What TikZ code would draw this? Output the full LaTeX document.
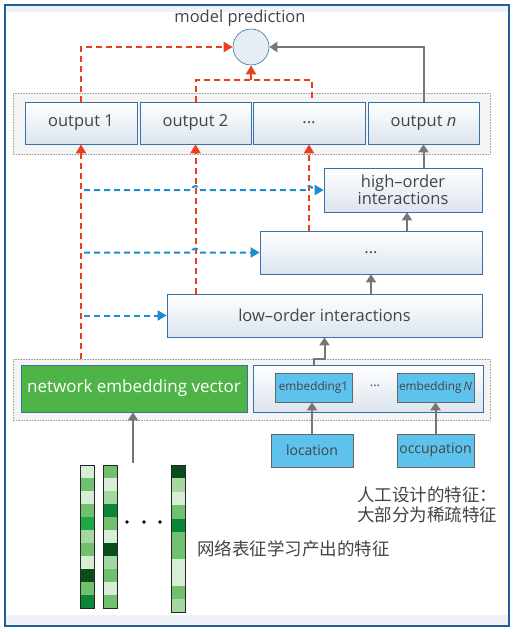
\documentclass[tikz,border=0pt]{standalone}
\usepackage{fontspec}
\setmainfont{Open Sans}
\newfontfamily\cjk{Noto Sans CJK SC}
\usepackage{tikz}
\usetikzlibrary{arrows.meta}

\definecolor{frameblue}{HTML}{1F5F9B}
\definecolor{boxblue}{HTML}{3471AE}
\definecolor{boxshade}{HTML}{DCE4EE}
\definecolor{redline}{HTML}{EA3F1E}
\definecolor{blueline}{HTML}{1B8ED1}
\definecolor{grayline}{HTML}{767676}
\definecolor{skyfill}{HTML}{5DC2EC}
\definecolor{embgreen}{HTML}{4FB448}
\definecolor{paleback}{HTML}{EEF2F7}
\definecolor{groupfill}{HTML}{F4F4F4}
\definecolor{predfill}{HTML}{E6EDF5}
\definecolor{txtgray}{HTML}{444444}
%% tonos de verde de los vectores
\definecolor{gA}{HTML}{D6EDD6}
\definecolor{gB}{HTML}{A5D8A0}
\definecolor{gC}{HTML}{70C06E}
\definecolor{gD}{HTML}{1FA84A}
\definecolor{gE}{HTML}{0B8538}
\definecolor{gF}{HTML}{0A4D1A}

\tikzset{
  panel/.style={draw=boxblue, line width=0.7pt, top color=white, bottom color=boxshade,
    text=txtgray, inner sep=0pt, font=\fontsize{16.5}{19}\selectfont},
  skybox/.style={draw=gray!80!black, line width=0.6pt, fill=skyfill, text=txtgray, inner sep=0pt},
  grouprect/.style={draw=gray!75, densely dotted, line width=0.6pt, fill=groupfill},
  reddash/.style={draw=redline, line width=2pt, dash pattern=on 6pt off 4pt},
  redarrow/.style={reddash, -{Triangle[length=9pt,width=10pt]}},
  bluearrow/.style={draw=blueline, line width=2pt, dash pattern=on 6pt off 4pt, -{Triangle[length=9pt,width=10pt]}},
  grayarrow/.style={draw=grayline, line width=2pt, -{Triangle[length=8pt,width=10pt]}},
}

\begin{document}
\begin{tikzpicture}[x=1pt,y=-1pt]
\useasboundingbox (0,0) rectangle (516,632);
%% marco exterior
\fill[white] (0,0) rectangle (516,632);
\fill[paleback] (5,5) rectangle (509,12);
\fill[paleback] (5,615) rectangle (509,626);
\draw[frameblue, line width=1.4pt] (5,5) rectangle (509,626);

%% grupos punteados
\draw[grouprect] (13,93) rectangle (490,154);
\draw[grouprect] (13,359) rectangle (490,420);

%% prediccion
\node[text=txtgray, font=\fontsize{16.5}{19}\selectfont] (title) at (240,18) {model prediction};
\node[circle, draw=boxblue, line width=0.6pt, fill=predfill, minimum size=36pt, inner sep=0pt] (pred) at (251,47) {};

%% salidas
\node[panel, minimum width=112pt, minimum height=42pt] (out1) at (81,123) {output 1};
\node[panel, minimum width=111pt, minimum height=42pt] (out2) at (195.5,123) {output 2};
\node[panel, minimum width=112pt, minimum height=42pt] (outd) at (309,123) {...};
\node[panel, minimum width=111pt, minimum height=42pt] (outn) at (423.5,123) {output \textit{n}};

%% interacciones
\node[panel, minimum width=158pt, minimum height=44pt, align=center,
  font=\fontsize{16.5}{17.5}\selectfont] (high) at (403,190) {high--order\\interactions};
\node[panel, minimum width=222pt, minimum height=43pt] (mid) at (371,252.5) {...};
\node[panel, minimum width=315pt, minimum height=43pt] (low) at (324.5,315.5) {low--order interactions};

%% embeddings
\node[draw=boxblue, line width=0.8pt, fill=embgreen, text=white, inner sep=0pt,
  minimum width=226pt, minimum height=47pt, font=\fontsize{17}{19}\selectfont] (net) at (134,388.5) {network embedding vector};
\node[panel, minimum width=230pt, minimum height=47pt] (feat) at (368,388.5) {};
\node[skybox, minimum width=77pt, minimum height=29pt, font=\fontsize{11.8}{14}\selectfont] (emb1) at (313.5,387.5) {embedding1};
\node[text=txtgray, font=\fontsize{13}{14}\selectfont] (embdots) at (375,386) {...};
\node[skybox, minimum width=77pt, minimum height=29pt, font=\fontsize{11.8}{14}\selectfont] (embN) at (435.5,387.5) {embedding\,\textit{N}};
\node[skybox, minimum width=82pt, minimum height=33pt, font=\fontsize{14}{15}\selectfont] (loc) at (312,450.5) {location};
\node[skybox, minimum width=77pt, minimum height=33pt, font=\fontsize{14}{15}\selectfont] (occ) at (435.5,450.5) {occupation};

%% vectores de la red
\foreach \cx/\ch/\cols in {80/13/{gA,gC,gA,gC,gD,gB,gC,gA,gF,gC,gE},
                          103/13/{gC,gA,gB,gE,gC,gA,gF,gB,gC,gA,gC},
                          171/13.4/{gF,gB,gA,gC,gE,gC,gC,gA,gA,gC,gB}}{
  \foreach \cc [count=\k from 0] in \cols {
    \fill[\cc] (\cx,465+\k*\ch) rectangle ++(14.5,\ch);
  }
  \draw[black!85, line width=0.9pt] (\cx,465) rectangle ++(14.5,11*\ch);
}
\foreach \dx in {127,144,160}{
  \fill[black] (\dx,522) circle (1.8pt);
}
\coordinate (vecs) at (133,463);

%% textos en chino
\node[anchor=west, align=left, text=txtgray, inner sep=0pt,
  font=\cjk\fontsize{17.5}{20}\selectfont] (handlbl) at (357,505) {人工设计的特征：\\大部分为稀疏特征};
\node[anchor=west, text=txtgray, inner sep=0pt,
  font=\cjk\fontsize{17.5}{20}\selectfont] (netlbl) at (197,549) {网络表征学习产出的特征};

%% flechas rojas hacia la prediccion
\coordinate (jointL) at (195.5,80);
\coordinate (jointR) at (312,80);
\draw[redarrow] (out1.north) |- (pred.west);
\draw[reddash] (out2.north) -- (jointL) -- (jointR) -- (jointR |- outd.north);
\draw[redarrow] (pred.south |- jointL) -- (pred.south);
\draw[grayarrow] (outn.north) |- (pred.east);

%% flechas rojas hacia las salidas
\coordinate (tap) at (81,359);
\draw[redarrow] (tap) -- (out1.south);
\draw[redarrow] (low.north -| out2.south) -- (out2.south);
\draw[redarrow] (mid.north -| outd.south) -- (outd.south);

%% flechas azules (con saltos)
\coordinate (hopA) at (out2.south |- high.west);
\coordinate (hopB) at (outd.south |- high.west);
\coordinate (hopC) at (out2.south |- mid.west);
\draw[bluearrow] ([xshift=3pt]tap |- high.west) -- ([xshift=-4pt]hopA)
  arc[start angle=180, end angle=0, radius=4pt] -- ([xshift=-4pt]hopB)
  arc[start angle=180, end angle=0, radius=4pt] -- (high.west);
\draw[bluearrow] ([xshift=3pt]tap |- mid.west) -- ([xshift=-4pt]hopC)
  arc[start angle=180, end angle=0, radius=4pt] -- (mid.west);
\draw[bluearrow] ([xshift=3pt]tap |- low.west) -- (low.west);

%% flechas grises
\draw[grayarrow] (high.north -| outn.south) -- (outn.south);
\draw[grayarrow] ([xshift=36pt]mid.north) -- ([xshift=4pt]high.south);
\draw[grayarrow] (mid.south |- low.north) -- (mid.south);
\draw[grayarrow] (emb1.north |- feat.north) -- ++(0,-6) -| (low.south);
\draw[grayarrow] (loc.north) -- (loc.north |- emb1.south);
\draw[grayarrow] (occ.north) -- (embN.south);
\draw[grayarrow] (vecs) -- (vecs |- net.south);
\end{tikzpicture}
\end{document}
